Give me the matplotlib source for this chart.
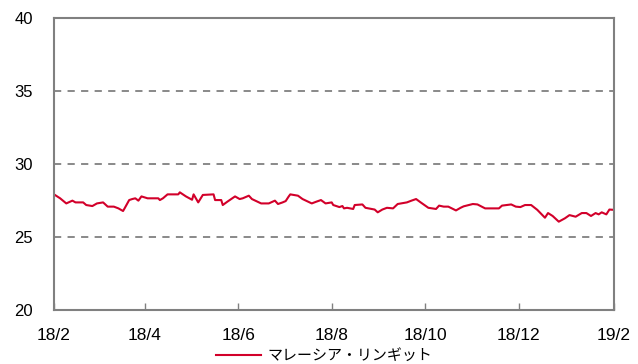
import numpy as np
import pandas as pd
import matplotlib
matplotlib.use("Agg")
import matplotlib.pyplot as plt
import matplotlib.dates as mdates

# Malaysian ringgit (yen per ringgit)
dates = [
    "2018-02-01", "2018-02-05", "2018-02-09", "2018-02-13", "2018-02-15", "2018-02-20",
    "2018-02-22", "2018-02-26", "2018-03-01", "2018-03-05", "2018-03-08", "2018-03-12",
    "2018-03-15", "2018-03-18", "2018-03-19", "2018-03-22", "2018-03-24", "2018-03-26",
    "2018-03-28", "2018-03-30", "2018-04-03", "2018-04-10", "2018-04-11", "2018-04-13",
    "2018-04-16", "2018-04-23", "2018-04-24", "2018-04-28", "2018-05-02", "2018-05-03",
    "2018-05-06", "2018-05-09", "2018-05-16", "2018-05-17", "2018-05-21", "2018-05-22",
    "2018-05-25", "2018-05-30", "2018-06-02", "2018-06-04", "2018-06-08", "2018-06-10",
    "2018-06-16", "2018-06-21", "2018-06-25", "2018-06-27", "2018-06-30", "2018-07-02",
    "2018-07-04", "2018-07-05", "2018-07-10", "2018-07-13", "2018-07-19", "2018-07-22",
    "2018-07-25", "2018-07-28", "2018-08-01", "2018-08-02", "2018-08-06", "2018-08-08",
    "2018-08-09", "2018-08-11", "2018-08-15", "2018-08-16", "2018-08-21", "2018-08-23",
    "2018-08-29", "2018-08-31", "2018-09-03", "2018-09-06", "2018-09-10", "2018-09-13",
    "2018-09-19", "2018-09-22", "2018-09-25", "2018-09-28", "2018-10-03", "2018-10-08",
    "2018-10-10", "2018-10-13", "2018-10-16", "2018-10-21", "2018-10-24", "2018-10-26",
    "2018-11-01", "2018-11-04", "2018-11-09", "2018-11-18", "2018-11-20", "2018-11-26",
    "2018-11-29", "2018-12-02", "2018-12-05", "2018-12-09", "2018-12-13", "2018-12-18",
    "2018-12-20", "2018-12-23", "2018-12-27", "2018-12-31", "2019-01-03", "2019-01-07",
    "2019-01-11", "2019-01-14", "2019-01-17", "2019-01-20", "2019-01-22", "2019-01-24",
    "2019-01-27", "2019-01-29", "2019-02-01",
]
myr = [
    27.92, 27.65, 27.30, 27.49, 27.37, 27.37,
    27.19, 27.12, 27.30, 27.37, 27.08, 27.08,
    26.96, 26.78, 26.96, 27.53, 27.60, 27.65,
    27.49, 27.78, 27.65, 27.65, 27.53, 27.65,
    27.92, 27.92, 28.06, 27.78, 27.55, 27.92,
    27.37, 27.88, 27.92, 27.53, 27.53, 27.19,
    27.42, 27.78, 27.60, 27.65, 27.83, 27.60,
    27.30, 27.30, 27.49, 27.26, 27.37, 27.46,
    27.78, 27.92, 27.83, 27.60, 27.30, 27.42,
    27.53, 27.30, 27.37, 27.19, 27.05, 27.12,
    26.96, 27.00, 26.92, 27.19, 27.23, 27.00,
    26.88, 26.69, 26.88, 27.00, 26.96, 27.26,
    27.37, 27.49, 27.60, 27.37, 27.00, 26.92,
    27.15, 27.08, 27.08, 26.82, 27.00, 27.10,
    27.26, 27.23, 26.96, 26.96, 27.15, 27.23,
    27.08, 27.05, 27.19, 27.19, 26.86, 26.32,
    26.64, 26.44, 26.05, 26.28, 26.50, 26.39,
    26.64, 26.64, 26.44, 26.64, 26.55, 26.69,
    26.55, 26.88, 26.86,
]
x_ticks = ["2018-02-01", "2018-04-01", "2018-06-01", "2018-08-01",
           "2018-10-01", "2018-12-01", "2019-02-01"]
x_labels = ["18/2", "18/4", "18/6", "18/8", "18/10", "18/12", "19/2"]
y_ticks = [20, 25, 30, 35, 40]
series_name = "マレーシア・リンギット"

tick_font = ["Liberation Sans", "DejaVu Sans"]
jp_font = ["Noto Sans CJK JP", "DejaVu Sans"]

fig = plt.figure(figsize=(6.38, 3.64), dpi=100)
ax = fig.add_axes([54 / 638, 54 / 364, 560 / 638, 292 / 364])

x = pd.to_datetime(dates)
ax.plot(x, myr, color="#D2002A", linewidth=1.5, label=series_name)

ax.set_ylim(20, 40)
ax.set_xlim(pd.Timestamp(x_ticks[0]), pd.Timestamp(x_ticks[-1]))
ax.set_yticks(y_ticks)
ax.set_xticks(pd.to_datetime(x_ticks))
ax.set_xticklabels(x_labels)

for v in y_ticks[1:-1]:
    ax.axhline(v, color="#808080", linewidth=1.3, linestyle=(0, (4, 3.5)), zorder=0)

for s in ax.spines.values():
    s.set_color("#808080")
    s.set_linewidth(1.5)

ax.tick_params(axis="x", direction="in", length=5, width=1, color="#808080",
               pad=13, labelsize=12.5)
ax.tick_params(axis="y", length=0, pad=15, labelsize=12)
for lab in ax.get_xticklabels() + ax.get_yticklabels():
    lab.set_family(tick_font)

fig.legend(loc="lower center", bbox_to_anchor=(324 / 638, -0.035), frameon=False,
           handlelength=3.0, handletextpad=0.45, prop={"family": jp_font, "size": 10.8})

fig.savefig("out.png", dpi=100)
